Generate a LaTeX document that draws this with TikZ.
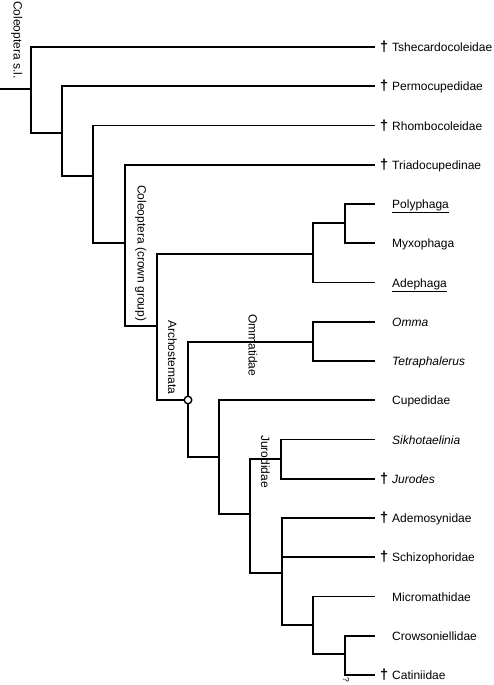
\documentclass[tikz,border=0pt]{standalone}
\usepackage{fontspec}
\setmainfont{Liberation Sans}

\begin{document}
\begin{tikzpicture}[x=1pt,y=-1pt,
	branch/.style={line width=1.8pt},
	taxon/.style={anchor=base west,inner sep=0pt,font=\fontsize{12}{14}\selectfont},
	extinct/.style={anchor=base east,inner sep=0pt,font=\fontsize{14.5}{16}\selectfont\bfseries},
	clade/.style={rotate=-90,anchor=base west,inner sep=0pt,font=\fontsize{12}{14}\selectfont}]
	\useasboundingbox (0,0) rectangle (493,685);
	% leaves
	\foreach \name/\row/\txt/\dg in {tshe/0/Tshecardocoleidae/1,permo/1/Permocupedidae/1,
		rhombo/2/Rhombocoleidae/1,triado/3/Triadocupedinae/1,poly/4/\underline{Polyphaga}/0,
		myxo/5/Myxophaga/0,adeph/6/\underline{Adephaga}/0,omma/7/\textit{Omma}/0,
		tetra/8/\textit{Tetraphalerus}/0,cupe/9/Cupedidae/0,sikho/10/\textit{Sikhotaelinia}/0,
		jurodes/11/\textit{Jurodes}/1,ademo/12/Ademosynidae/1,schizo/13/Schizophoridae/1,
		micro/14/Micromathidae/0,crow/15/Crowsoniellidae/0,catin/16/Catiniidae/1}{
		\coordinate (\name) at (375,{47+39.25*\row});
		\node[taxon] (\name-l) at (392,{51.5+39.25*\row}) {\txt};
		\ifnum\dg=1 \node[extinct] (\name-d) at (388.5,{51.5+39.25*\row}) {†};\fi
	}
	% inner nodes
	\coordinate (base) at (0,89);
	\coordinate (root) at (31,89);
	\coordinate (n2) at (62,133);
	\coordinate (n3) at (93,176);
	\coordinate (crown) at (125,243);
	\coordinate (n5) at (157,326);
	\coordinate (n6) at (313,254);
	\coordinate (n7) at (345,223);
	\coordinate (arch) at (188,400);
	\coordinate (omm) at (313,342);
	\coordinate (n8) at (219,457);
	\coordinate (n9) at (250,514);
	\coordinate (jur) at (281,459);
	\coordinate (n10) at (282,573);
	\coordinate (n11) at (313,625);
	\coordinate (n12) at (345,654);
	% branches
	\draw[branch] (base) -- (root);
	\foreach \from/\to in {root/tshe,root/n2,n2/permo,n2/n3,n3/rhombo,n3/crown,
		crown/triado,crown/n5,n5/n6,n5/arch,n6/n7,n6/adeph,n7/poly,n7/myxo,
		arch/omm,arch/n8,omm/omma,omm/tetra,n8/cupe,n8/n9,n9/jur,n9/n10,
		jur/sikho,jur/jurodes,n10/ademo,n10/schizo,n10/n11,n11/micro,n11/n12,
		n12/crow,n12/catin}
		\draw[branch] (\from) |- (\to);
	\node[circle,draw,fill=white,line width=1.4pt,minimum size=7.5pt,inner sep=0pt] (arch-c) at (arch) {};
	% clade names
	\node[clade] (sl-l) at (13.5,1) {Coleoptera s.l.};
	\node[clade] (crown-l) at (137.5,185) {Coleoptera (crown group)};
	\node[clade] (arch-l) at (168,320) {Archostemata};
	\node[clade] (omm-l) at (248.5,314) {Ommatidae};
	\node[clade] (jur-l) at (261,435) {Jurodidae};
	\node[clade,font=\fontsize{8.5}{10}\selectfont] (q-l) at (343,677) {?};
\end{tikzpicture}
\end{document}
